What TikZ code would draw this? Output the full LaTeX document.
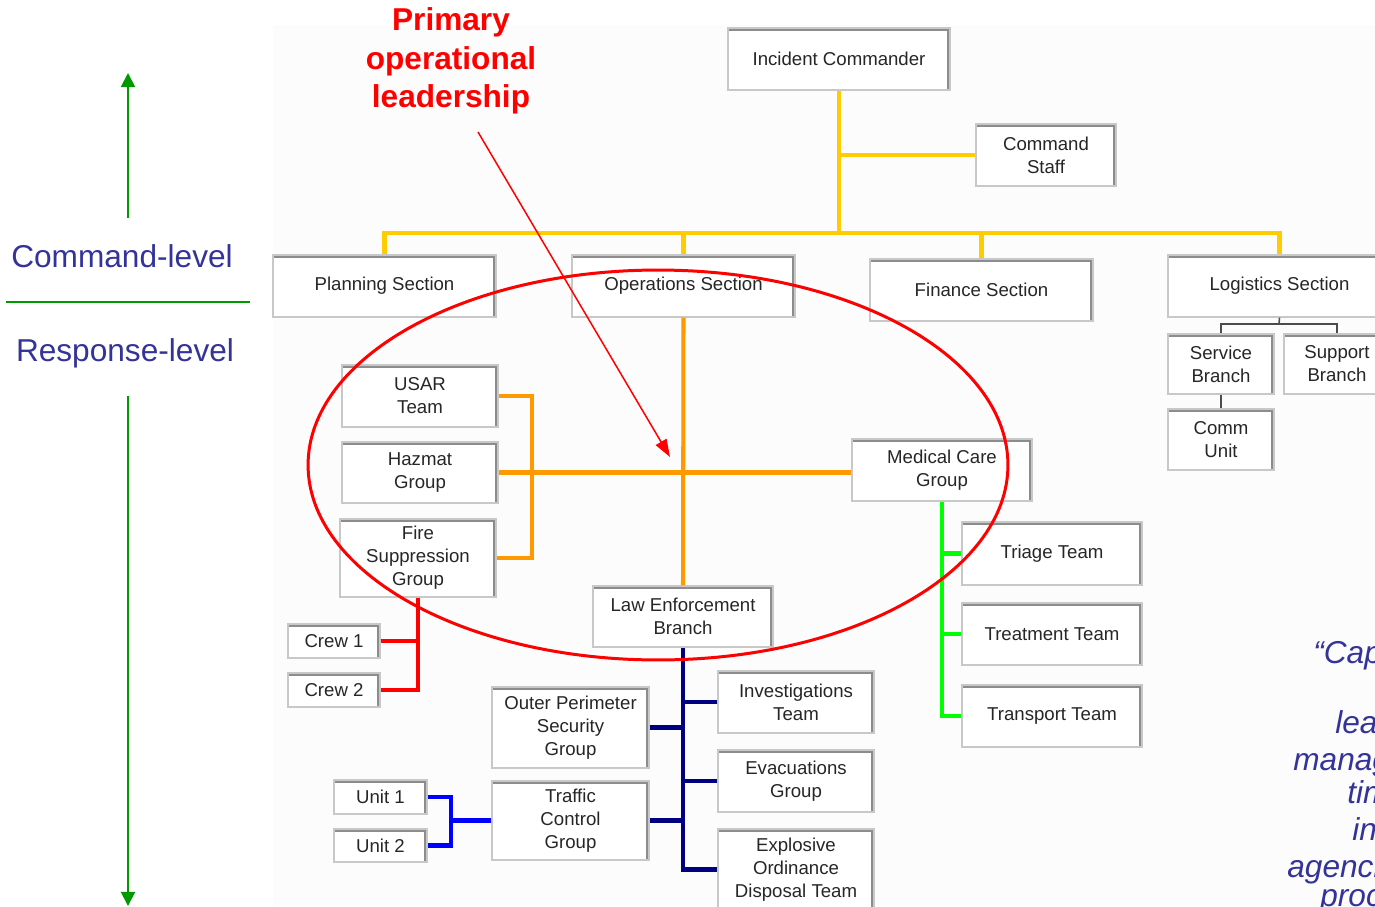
\documentclass[tikz,border=0pt]{standalone}
\usepackage{fontspec}
\setmainfont{Liberation Sans}
\usetikzlibrary{arrows.meta}

\definecolor{icsyellow}{RGB}{255,204,0}
\definecolor{icsorange}{RGB}{255,153,0}
\definecolor{icsred}{RGB}{255,0,0}
\definecolor{icsgreen}{RGB}{0,255,0}
\definecolor{icsnavy}{RGB}{0,0,128}
\definecolor{icsblue}{RGB}{0,0,255}
\definecolor{levelblue}{RGB}{51,51,153}
\definecolor{levelgreen}{RGB}{0,153,0}
\definecolor{boxedge}{RGB}{200,200,200}
\definecolor{boxshade}{RGB}{140,140,140}
\definecolor{chartbg}{RGB}{252,252,252}

\tikzset{
  orgbox/.style={draw=boxedge, line width=0.7pt, fill=white, inner sep=1pt, align=center,
    font=\fontsize{10.6}{13}\selectfont, text=black!85,
    path picture={\draw[boxshade, line width=3.4pt]
      (path picture bounding box.north west) -- (path picture bounding box.north east)
      -- (path picture bounding box.south east);}},
  yline/.style={icsyellow, line width=2.8pt},
  oline/.style={icsorange, line width=2.3pt},
  rline/.style={icsred, line width=2.8pt},
  gline/.style={icsgreen, line width=2.3pt},
  nline/.style={icsnavy, line width=2.8pt},
  bline/.style={icsblue, line width=2.3pt},
  kline/.style={black!70, line width=0.9pt},
  level/.style={text=levelblue, font=\fontsize{18}{21}\selectfont},
  quote/.style={text=levelblue, font=\itshape\fontsize{18}{21}\selectfont, inner sep=0pt, anchor=base west},
}

\begin{document}
\begin{tikzpicture}[x=0.02cm,y=-0.02cm]
  \useasboundingbox (0,0) rectangle (1375,906);
  \clip (0,0) rectangle (1375,906);
  \fill[chartbg] (273,25) rectangle (1375,906);

  % command level
  \node[orgbox, minimum width=4.44cm, minimum height=1.24cm] (ic) at (839,59) {Incident Commander};
  \node[orgbox, minimum width=2.8cm, minimum height=1.24cm] (cstaff) at (1046,155) {Command\\Staff};
  \node[orgbox, minimum width=4.46cm, minimum height=1.24cm] (plan) at (384.5,286) {Planning Section};
  \node[orgbox, minimum width=4.46cm, minimum height=1.24cm] (ops) at (683.5,286) {Operations Section};
  \node[orgbox, minimum width=4.46cm, minimum height=1.24cm] (fin) at (981.5,290) {Finance Section};
  \node[orgbox, minimum width=4.46cm, minimum height=1.24cm] (logi) at (1279.5,286) {Logistics Section};
  \node[orgbox, minimum width=2.12cm, minimum height=1.2cm] (serv) at (1221,364) {Service\\Branch};
  \node[orgbox, minimum width=2.12cm, minimum height=1.2cm] (supp) at (1337,364) {Support\\Branch};
  \node[orgbox, minimum width=2.12cm, minimum height=1.22cm] (comm) at (1221,439.5) {Comm\\Unit};

  % operations
  \node[orgbox, minimum width=3.12cm, minimum height=1.24cm] (usar) at (420,396) {USAR\\Team};
  \node[orgbox, minimum width=3.12cm, minimum height=1.22cm] (hazmat) at (420,472.5) {Hazmat\\Group};
  \node[orgbox, minimum width=3.12cm, minimum height=1.56cm] (fire) at (418,558) {Fire\\Suppression\\Group};
  \node[orgbox, minimum width=3.6cm, minimum height=1.24cm] (med) at (942,470) {Medical Care\\Group};
  \node[orgbox, minimum width=3.6cm, minimum height=1.22cm] (law) at (683,616.5) {Law Enforcement\\Branch};
  \node[orgbox, minimum width=1.84cm, minimum height=0.68cm] (crew1) at (334,641) {Crew 1};
  \node[orgbox, minimum width=1.84cm, minimum height=0.68cm] (crew2) at (334,690) {Crew 2};
  \node[orgbox, minimum width=3.6cm, minimum height=1.26cm] (triage) at (1052,553.5) {Triage Team};
  \node[orgbox, minimum width=3.6cm, minimum height=1.24cm] (treat) at (1052,634) {Treatment Team};
  \node[orgbox, minimum width=3.6cm, minimum height=1.24cm] (transp) at (1052,716) {Transport Team};
  \node[orgbox, minimum width=3.12cm, minimum height=1.24cm] (invest) at (796,702) {Investigations\\Team};
  \node[orgbox, minimum width=3.12cm, minimum height=1.24cm] (evac) at (796,781) {Evacuations\\Group};
  \node[orgbox, minimum width=3.12cm, minimum height=1.62cm] (eod) at (796,869.5) {Explosive\\Ordinance\\Disposal Team};
  \node[orgbox, minimum width=3.14cm, minimum height=1.62cm] (outer) at (570.5,727.5) {Outer Perimeter\\Security\\Group};
  \node[orgbox, minimum width=3.14cm, minimum height=1.58cm] (traffic) at (570.5,820.5) {Traffic\\Control\\Group};
  \node[orgbox, minimum width=1.86cm, minimum height=0.68cm] (unit1) at (380.5,797) {Unit 1};
  \node[orgbox, minimum width=1.86cm, minimum height=0.66cm] (unit2) at (380.5,845.5) {Unit 2};

  \coordinate (bus) at (0,233);
  \coordinate (ljoin) at (1279,324);
  \coordinate (ojoin) at (532,472);
  \coordinate (ujoin) at (451,820.5);

  \draw[yline] (ic.south) -- (ic.south |- bus);
  \draw[yline] (cstaff.west) -- (cstaff.west -| ic.south);
  \draw[yline] (plan.north) -- (plan.north |- bus) -| (logi.north);
  \draw[yline] (ops.north) -- (ops.north |- bus);
  \draw[yline] (fin.north) -- (fin.north |- bus);

  \draw[kline] (logi.south) -- (ljoin);
  \draw[kline] (serv.north) |- (ljoin) -| (supp.north);
  \draw[kline] (serv.south) -- (comm.north);

  \draw[oline] (ops.south) -- (law.north);
  \draw[oline] (hazmat.east) -- (hazmat.east -| med.west);
  \draw[oline] (usar.east) -| (ojoin) |- (fire.east);

  \draw[rline] (fire.south) |- (crew2.east);
  \draw[rline] (crew1.east) -- (crew1.east -| fire.south);

  \draw[gline] (med.south) |- (transp.west);
  \foreach \t in {triage,treat}
    \draw[gline] (\t.west) -- (\t.west -| med.south);

  \draw[nline] (law.south) |- (eod.west);
  \foreach \t in {invest,evac}
    \draw[nline] (\t.west) -- (\t.west -| law.south);
  \foreach \t in {outer,traffic}
    \draw[nline] (\t.east) -- (\t.east -| law.south);

  \draw[bline] (unit1.east) -| (ujoin) |- (unit2.east);
  \draw[bline] (traffic.west) -- (ujoin);

  % levels on the left
  \coordinate (uptop) at (128,73);
  \coordinate (upbot) at (128,218);
  \coordinate (dntop) at (128,396);
  \coordinate (dnbot) at (128,906);
  \draw[levelgreen, line width=1.1pt, -{Triangle[length=8pt,width=8pt]}] (upbot) -- (uptop);
  \draw[levelgreen, line width=1.1pt, -{Triangle[length=8pt,width=8pt]}] (dntop) -- (dnbot);
  \draw[levelgreen, line width=1.1pt] (6,302) -- (250,302);
  \node[level] (cmdlvl) at (122,256) {Command-level};
  \node[level] (resplvl) at (125,353) {Response-level};

  % highlight
  \node[text=icsred, align=center, font=\bfseries\fontsize{18}{21.8}\selectfont] (title) at (451,61) {Primary\\operational\\leadership};
  \coordinate (tail) at (478,132);
  \coordinate (tip) at (670,457);
  \draw[icsred, line width=0.85pt, -{Triangle[length=10pt,width=7pt]}] (tail) -- (tip);
  \draw[icsred, line width=1.7pt] (658,465) ellipse [x radius=7cm, y radius=3.9cm];

  \foreach \qx/\qy/\qt [count=\qi] in {1313/663/{“Capable},1335/733/{leadership},
      1293/770/{management},1347/803/{timely},1352/840/{integrated},
      1287/877/{agencies},1320/906/{procedures}}
    \node[quote] (q\qi) at (\qx,\qy) {\qt};
\end{tikzpicture}
\end{document}
